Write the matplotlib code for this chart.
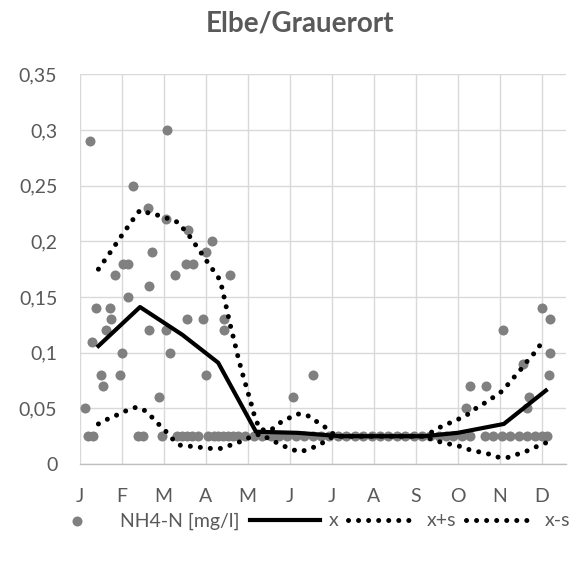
import matplotlib
matplotlib.use("Agg")
import matplotlib.pyplot as plt
from matplotlib.ticker import FuncFormatter

plt.rcParams["font.family"] = ["Lato", "DejaVu Sans"]

# x positions are in months (0 = 1 Jan, 1 = 1 Feb, ...)
month_labels = ["J", "F", "M", "A", "M", "J", "J", "A", "S", "O", "N", "D"]

# single NH4-N samples above the detection limit
sample_month = [0.13, 0.25, 0.29, 0.39, 0.50, 0.57, 0.62, 0.73, 0.75, 0.85,
                0.96, 1.02, 1.04, 1.15, 1.16, 1.27, 1.64, 1.66, 1.66, 1.73,
                1.88, 2.06, 2.06, 2.09, 2.15, 2.27, 2.54, 2.59, 2.55, 2.71,
                2.95, 3.00, 3.00, 3.16, 3.44, 3.44, 3.58, 5.09, 5.55, 9.19,
                9.30, 9.67, 10.09, 10.55, 10.65, 10.71, 11.02, 11.20, 11.20, 11.18]
sample_value = [0.05, 0.29, 0.11, 0.14, 0.08, 0.07, 0.12, 0.14, 0.13, 0.17,
                0.08, 0.10, 0.18, 0.15, 0.18, 0.25, 0.23, 0.16, 0.12, 0.19,
                0.06, 0.22, 0.12, 0.30, 0.10, 0.17, 0.18, 0.21, 0.13, 0.18,
                0.13, 0.19, 0.08, 0.20, 0.13, 0.12, 0.17, 0.06, 0.08, 0.05,
                0.07, 0.07, 0.12, 0.09, 0.05, 0.06, 0.14, 0.13, 0.10, 0.08]

# samples at the detection limit (0.025 mg/l)
limit_month = [0.21, 0.33, 1.39, 1.51, 1.96,
               2.31, 2.43, 2.55, 2.67, 2.83, 3.07, 3.19, 3.30, 3.42, 3.54, 3.66, 3.78,
               3.95, 4.15, 4.35, 4.55, 4.75, 4.95, 5.15, 5.35, 5.55, 5.75, 5.95,
               6.15, 6.35, 6.55, 6.75, 6.95, 7.15, 7.35, 7.55, 7.75, 7.95, 8.15,
               8.35, 8.55, 8.72, 8.90, 9.10, 9.30, 9.65, 9.85, 10.05, 10.25,
               10.45, 10.65, 10.85, 11.00, 11.12]
limit_value = 0.025

# monthly mean
mean_month = [0.45, 1.44, 2.45, 3.30, 4.20, 5.20, 6.20, 7.20, 8.20, 9.00, 10.10, 11.10]
mean_value = [0.106, 0.141, 0.116, 0.091, 0.029, 0.028, 0.025, 0.025, 0.025, 0.028, 0.036, 0.066]

# mean + standard deviation
upper_month = [0.45, 0.73, 1.00, 1.28, 1.44, 1.68, 1.92, 2.35, 2.63, 2.87, 3.07,
               3.35, 3.47, 3.58, 3.68, 3.78, 3.88, 3.98, 4.08, 4.18, 4.30, 4.54,
               4.77, 4.97, 5.19, 5.41, 5.61, 5.85, 6.04, 6.20, 8.20, 8.40, 8.58,
               8.82, 9.06, 9.26, 9.47, 9.70, 9.89, 10.08, 10.23, 10.39, 10.55,
               10.71, 10.86, 11.00, 11.10]
upper_value = [0.175, 0.190, 0.205, 0.220, 0.228, 0.225, 0.223, 0.217, 0.204, 0.191, 0.180,
               0.165, 0.145, 0.126, 0.111, 0.095, 0.081, 0.068, 0.055, 0.041, 0.031, 0.030,
               0.037, 0.041, 0.045, 0.044, 0.039, 0.033, 0.027, 0.025, 0.025, 0.029, 0.033,
               0.037, 0.041, 0.045, 0.051, 0.056, 0.061, 0.066, 0.073, 0.080, 0.087,
               0.095, 0.101, 0.109, 0.113]

# mean - standard deviation
lower_month = [0.45, 0.65, 0.89, 1.12, 1.35, 1.52, 1.70, 1.85, 2.04, 2.20, 2.38,
               2.63, 2.87, 3.12, 3.36, 3.60, 3.82, 4.06, 4.30, 4.54, 4.76, 4.99,
               5.23, 5.45, 5.69, 5.88, 6.08, 6.20, 8.20, 8.40, 8.57, 8.80, 9.04,
               9.27, 9.50, 9.74, 9.98, 10.21, 10.44, 10.67, 10.90, 11.10]
lower_value = [0.036, 0.040, 0.044, 0.048, 0.051, 0.049, 0.043, 0.037, 0.030, 0.023, 0.017,
               0.016, 0.015, 0.014, 0.014, 0.017, 0.020, 0.024, 0.027, 0.022, 0.018, 0.014,
               0.011, 0.013, 0.017, 0.021, 0.026, 0.025, 0.025, 0.022, 0.020, 0.018, 0.016,
               0.013, 0.011, 0.009, 0.006, 0.006, 0.009, 0.012, 0.016, 0.019]

grey = "#808080"
text_grey = "#595959"
grid_grey = "#d9d9d9"
dotted = (0, (0.01, 2.0))

fig = plt.figure(figsize=(5.86, 5.63), dpi=100)
ax = fig.add_axes([0.1357, 0.1758, 0.8302, 0.6922])

ax.scatter(sample_month, sample_value, s=52, color=grey, linewidths=0, zorder=3,
           label="NH4-N [mg/l]")
ax.scatter(limit_month, [limit_value] * len(limit_month), s=52, color=grey,
           linewidths=0, zorder=3)
ax.plot(mean_month, mean_value, color="black", linewidth=3.0, zorder=4, label="x")
ax.plot(upper_month, upper_value, color="black", linewidth=3.6, linestyle=dotted,
        dash_capstyle="round", zorder=4, label="x+s")
ax.plot(lower_month, lower_value, color="black", linewidth=3.6, linestyle=dotted,
        dash_capstyle="round", zorder=4, label="x-s")

ax.set_xlim(0, 11.58)
ax.set_ylim(0, 0.35)
ax.set_xticks(range(12))
ax.set_xticklabels(month_labels)
ax.set_yticks([0, 0.05, 0.1, 0.15, 0.2, 0.25, 0.3, 0.35])
ax.yaxis.set_major_formatter(FuncFormatter(lambda v, p: f"{v:g}".replace(".", ",")))

ax.grid(True, color=grid_grey, linewidth=1.0, zorder=0)
ax.set_axisbelow(True)
for side in ["top", "right", "left"]:
    ax.spines[side].set_visible(False)
ax.spines["bottom"].set_color("#bfbfbf")
ax.spines["bottom"].set_linewidth(1.0)
ax.tick_params(length=0, labelsize=14, labelcolor=text_grey)
ax.tick_params(axis="y", pad=16)
ax.tick_params(axis="x", pad=17)

fig.text(0.512, 0.958, "Elbe/Grauerort", ha="center", va="center",
         fontsize=20, fontweight="bold", color=text_grey)

fig.legend(loc="center", bbox_to_anchor=(0.522, 0.0746), ncol=4, frameon=False,
           fontsize=14, labelcolor=text_grey, handlelength=3.6, handletextpad=0.45,
           columnspacing=0.5, scatterpoints=1)

fig.savefig("out.png", dpi=100)
